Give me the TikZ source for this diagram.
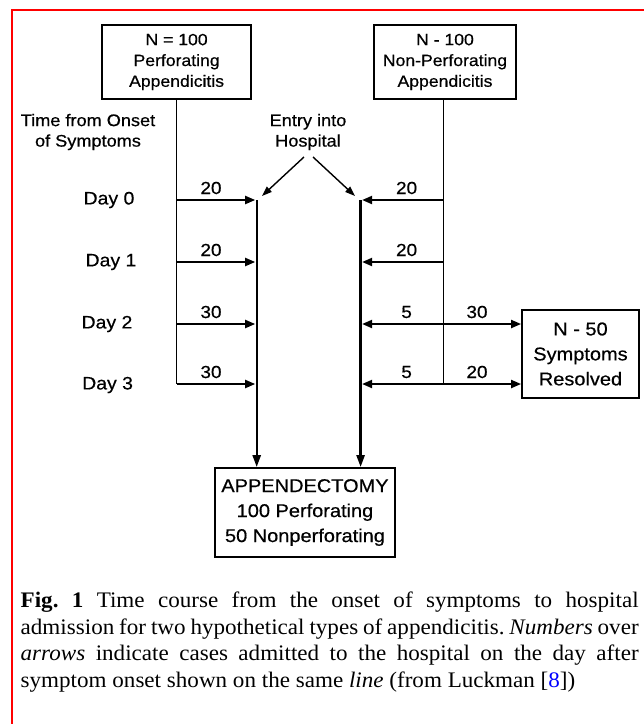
\documentclass[tikz,border=0pt]{standalone}
\usepackage{fontspec}
\setmainfont{Liberation Serif}[FakeStretch=1.04]
\newfontfamily\diag[FakeStretch=1.08,FakeBold=0.5]{Liberation Sans}
\usetikzlibrary{arrows.meta,calc}
\begin{document}
\begin{tikzpicture}[x=1pt,y=-1pt,
  thinline/.style={line width=1.3pt},
  flowarrow/.style={line width=2pt,-{Triangle[length=10pt,width=8pt]}},
  hosparrow/.style={line width=2.4pt,-{Triangle[length=12pt,width=8pt]}},
  entryarrow/.style={line width=1.4pt,-{Triangle[length=10pt,width=7pt]}},
  topbox/.style={draw,line width=1.8pt,inner sep=0pt,align=center,
    font=\diag\fontsize{16.3}{20.8}\selectfont},
  bigbox/.style={draw,line width=1.8pt,inner sep=0pt,align=center,
    font=\diag\fontsize{18.5}{25}\selectfont},
  numlab/.style={font=\diag\fontsize{17.5}{20}\selectfont,inner sep=0pt},
  daylab/.style={font=\diag\fontsize{18}{20}\selectfont,inner sep=0pt},
  headlab/.style={font=\diag\fontsize{16.8}{20.5}\selectfont,inner sep=0pt,align=center}]
\useasboundingbox (0,0) rectangle (644,724);
\fill[white] (0,0) rectangle (644,724);
% red frame
\draw[red,line width=2.6pt] (12,730) -- (12,10) -- (650,10);

% top boxes
\node[topbox,minimum width=149pt,minimum height=74pt] (perf) at (176.6,62)
  {N = 100\\Perforating\\Appendicitis};
\node[topbox,minimum width=142pt,minimum height=74pt] (nonperf) at (445,62)
  {N - 100\\Non-Perforating\\Appendicitis};

% headings
\node[headlab] (time) at (88,132) {Time from Onset\\of Symptoms};
\node[headlab] (entry) at (308,132) {Entry into\\Hospital};

% coordinates
\foreach \i/\y in {0/200,1/262,2/324,3/384}{
  \coordinate (lv\i) at (176.6,\y);
  \coordinate (rv\i) at (443.5,\y);
  \coordinate (lh\i) at (256.7,\y);
  \coordinate (rh\i) at (360.6,\y);
}
\coordinate (es1) at (304,157);
\coordinate (ee1) at (262,196);
\coordinate (es2) at (313,157);
\coordinate (ee2) at (355,196);

% bottom boxes
\node[bigbox,minimum width=180pt,minimum height=89pt] (app) at (305,512.5)
  {APPENDECTOMY\\100 Perforating\\50 Nonperforating};
\node[bigbox,minimum width=117pt,minimum height=88pt] (res) at (580.5,354)
  {N - 50\\Symptoms\\Resolved};

% verticals
\draw[thinline] (perf.south) -- (lv3);
\draw[thinline] (nonperf.south -| rv0) -- (rv3);

% hospital lines
\draw[hosparrow] (lh0) -- (lh0 |- app.north);
\draw[hosparrow] (rh0) -- (rh0 |- app.north);

% entry arrows
\draw[entryarrow] (es1) -- (ee1);
\draw[entryarrow] (es2) -- (ee2);

% left flows
\foreach \i/\n/\y in {0/20/188,1/20/250,2/30/312,3/30/372}{
  \draw[flowarrow] (lv\i) -- ([xshift=-1.5pt]lh\i);
  \node[numlab] at (211,\y) {\n};
}
% right flows
\foreach \i/\n/\y in {0/20/188,1/20/250,2/5/312,3/5/372}{
  \draw[flowarrow] (rv\i) -- ([xshift=1.5pt]rh\i);
  \node[numlab] at (406.6,\y) {\n};
}
\draw[flowarrow] (rv2) -- (rv2 -| res.west);
\draw[flowarrow] (rv3) -- (rv3 -| res.west);
\node[numlab] at (477,312) {30};
\node[numlab] at (477,372) {20};

% day labels
\node[daylab] (d0) at (109,200) {Day 0};
\node[daylab] (d1) at (111,262) {Day 1};
\node[daylab] (d2) at (107,324) {Day 2};
\node[daylab] (d3) at (107.6,385) {Day 3};

% caption
\node[anchor=north west,inner sep=0pt,text width=618pt,align=justify,
  font=\fontsize{22.2}{26.7}\selectfont] (cap) at (20.5,591.5)
  {\frenchspacing\hyphenpenalty=10000\exhyphenpenalty=10000\textbf{Fig.\ 1} Time course from the onset of symptoms to hospital\linebreak admission for two hypothetical types of appendicitis. \textit{Numbers} over\linebreak \textit{arrows} indicate cases admitted to the hospital on the day after\linebreak symptom onset shown on the same \textit{line} (from Luckman [{\color{blue}8}])\par};
\end{tikzpicture}
\end{document}
